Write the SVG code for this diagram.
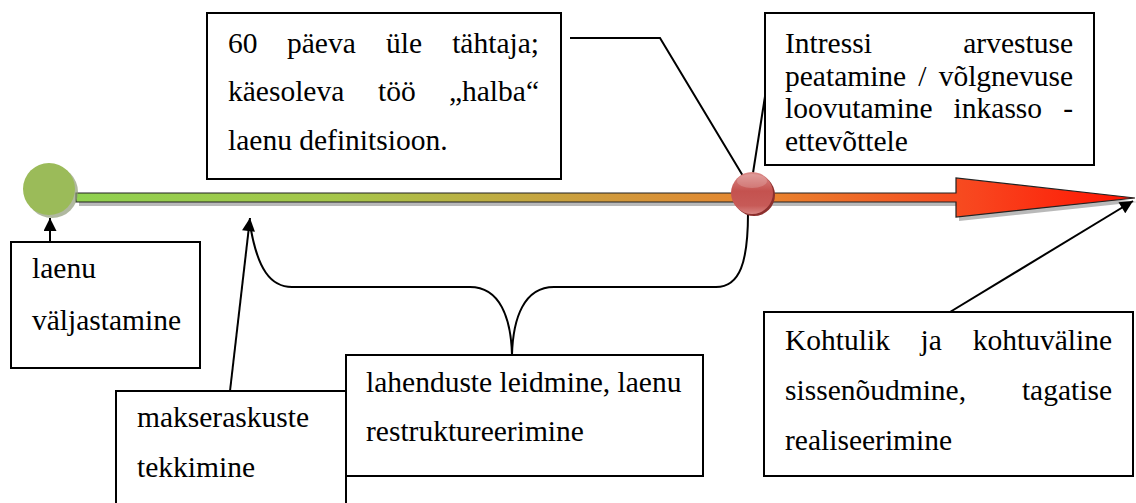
<svg xmlns="http://www.w3.org/2000/svg" width="1136" height="503" viewBox="0 0 1136 503" font-family="'Liberation Serif', 'Times New Roman', serif">
  <defs>
    <linearGradient id="barFill" x1="76" y1="0" x2="1136" y2="0" gradientUnits="userSpaceOnUse">
      <stop offset="0" stop-color="#8fd14f"/>
      <stop offset="0.25" stop-color="#a6c64a"/>
      <stop offset="0.5" stop-color="#d09a3c"/>
      <stop offset="0.65" stop-color="#e8842e"/>
      <stop offset="0.85" stop-color="#f8451e"/>
      <stop offset="1" stop-color="#ff1200"/>
    </linearGradient>
    <linearGradient id="redBall" x1="0" y1="0" x2="0" y2="1">
      <stop offset="0" stop-color="#dc8c8a"/>
      <stop offset="0.45" stop-color="#c4524f"/>
      <stop offset="0.8" stop-color="#c75a57"/>
      <stop offset="1" stop-color="#d88583"/>
    </linearGradient>
    <marker id="head" viewBox="0 0 10 10" refX="10" refY="5" markerWidth="7" markerHeight="6.5" orient="auto" markerUnits="strokeWidth">
      <path d="M0,0 L10,5 L0,10 Z" fill="#000"/>
    </marker>
    <style>
      .box { fill: #fff; stroke: #000; stroke-width: 2; }
      .txt { font-family: 'Liberation Serif', 'Times New Roman', serif; font-size: 29.5px; fill: #000; }
      .end { text-anchor: end; }
      .conn { fill: none; stroke: #000; stroke-width: 2; }
    </style>
  </defs>

  <!-- timeline bar with arrowhead -->
  <g id="timeline">
    <path d="M79,197 L959,197 L959,182 L1138,202 L959,221 L959,206 L79,206 Z" fill="#a8a8a8" opacity="0.8"/>
    <path d="M76,193 L956,193 L956,178 L1135,198 L956,217 L956,202 L76,202 Z" fill="url(#barFill)" stroke="#222" stroke-width="1.2"/>
  </g>

  <!-- connectors -->
  <g id="connectors">
    <line class="conn" x1="50" y1="242" x2="50" y2="218" marker-end="url(#head)"/>
    <line class="conn" x1="230" y1="391" x2="250" y2="218" marker-end="url(#head)"/>
    <line class="conn" x1="950" y1="312" x2="1133" y2="201" marker-end="url(#head)"/>
    <polyline class="conn" points="570,38 660,38 743,176"/>
    <line class="conn" x1="753" y1="173" x2="766" y2="90"/>
    <path class="conn" d="M251,230 C258,268 270,287 292,287 L470,287 C500,287 511,318 512,355 M512,355 C513,318 524,287 554,287 L716,287 C740,287 748,262 748,213"/>
  </g>

  <!-- milestone markers -->
  <g id="start-marker">
    <circle cx="52" cy="192" r="26" fill="#8f9a78" opacity="0.7"/>
    <circle cx="49" cy="189" r="26" fill="#9bbb59"/>
  </g>
  <g id="cutoff-marker">
    <circle cx="754" cy="195" r="21" fill="#8c2f2d"/>
    <circle cx="752" cy="193" r="21" fill="url(#redBall)"/>
    <ellipse cx="752" cy="181" rx="15" ry="7" fill="#fff" opacity="0.18"/>
  </g>

  <!-- node: overdue definition -->
  <g id="node-overdue">
    <rect class="box" x="207" y="13" width="354" height="166"/>
    <text class="txt" x="228" y="52.5">60</text>
    <text class="txt" x="287" y="52.5">päeva</text>
    <text class="txt" x="386" y="52.5">üle</text>
    <text class="txt end" x="539" y="52.5">tähtaja;</text>
    <text class="txt" x="228" y="101">käesoleva</text>
    <text class="txt" x="378" y="101">töö</text>
    <text class="txt end" x="539" y="101">„halba“</text>
    <text class="txt" x="228" y="150">laenu definitsioon.</text>
  </g>

  <!-- node: interest stop -->
  <g id="node-interest">
    <rect class="box" x="765" y="13" width="329" height="152"/>
    <text class="txt" x="785" y="53">Intressi</text>
    <text class="txt end" x="1073" y="53">arvestuse</text>
    <text class="txt" x="785" y="85.5">peatamine</text>
    <text class="txt" x="918.3" y="85.5">/</text>
    <text class="txt end" x="1073" y="85.5">võlgnevuse</text>
    <text class="txt" x="785" y="118">loovutamine</text>
    <text class="txt" x="953.6" y="118">inkasso</text>
    <text class="txt end" x="1073" y="118">-</text>
    <text class="txt" x="785" y="150.5">ettevõttele</text>
  </g>

  <!-- node: loan issue -->
  <g id="node-issue">
    <rect class="box" x="11" y="242" width="189" height="126"/>
    <text class="txt" x="32" y="278">laenu</text>
    <text class="txt" x="32" y="330">väljastamine</text>
  </g>

  <!-- node: payment difficulties -->
  <g id="node-difficulties">
    <rect class="box" x="116" y="391" width="230" height="130"/>
    <text class="txt" x="137" y="427">makseraskuste</text>
    <text class="txt" x="137" y="477">tekkimine</text>
  </g>

  <!-- node: restructuring -->
  <g id="node-restructuring">
    <rect class="box" x="346" y="355" width="357" height="121"/>
    <text class="txt" x="366" y="392">lahenduste leidmine, laenu</text>
    <text class="txt" x="366" y="441">restruktureerimine</text>
  </g>

  <!-- node: enforcement -->
  <g id="node-enforcement">
    <rect class="box" x="764" y="312" width="369" height="164"/>
    <text class="txt" x="785" y="350">Kohtulik</text>
    <text class="txt" x="920.6" y="350">ja</text>
    <text class="txt end" x="1112" y="350">kohtuväline</text>
    <text class="txt" x="785" y="400">sissenõudmine,</text>
    <text class="txt end" x="1112" y="400">tagatise</text>
    <text class="txt" x="785" y="450">realiseerimine</text>
  </g>
</svg>
